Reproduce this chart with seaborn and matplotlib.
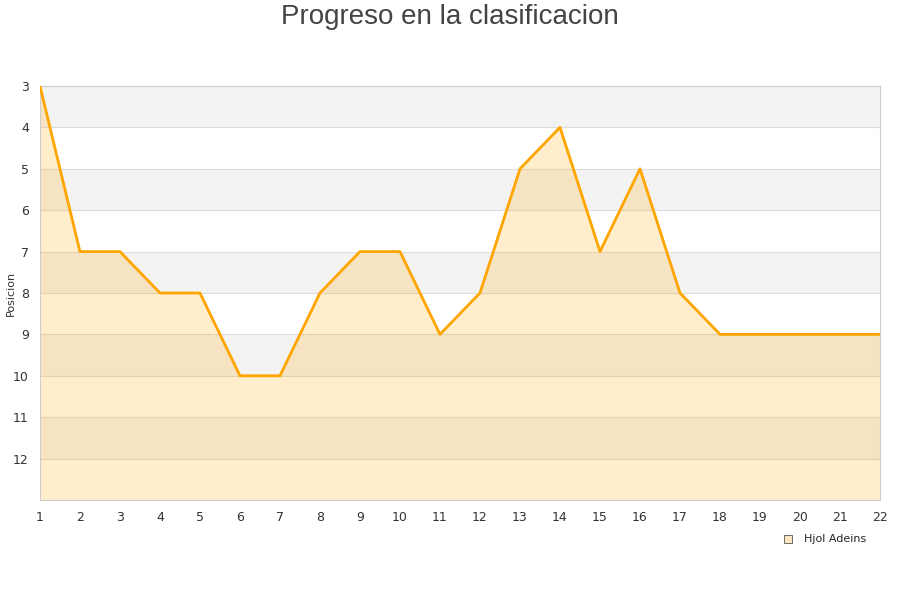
import pandas as pd
import matplotlib
matplotlib.use("Agg")
import matplotlib.pyplot as plt
import seaborn as sns
from matplotlib.lines import Line2D

jornadas = list(range(1, 23))
posicion = [3, 7, 7, 8, 8, 10, 10, 8, 7, 7, 9, 8, 5, 4, 7, 5, 8, 9, 9, 9, 9, 9]
equipo = "Hjol Adeins"

df = pd.DataFrame({"jornada": jornadas, "posicion": posicion})

sns.set_style("white")
plt.rcParams["font.family"] = ["DejaVu Sans"]

fig = plt.figure(figsize=(9, 6), dpi=100)
ax = fig.add_axes([0.0444, 0.1667, 0.9334, 0.69])

# bandas alternas
for y0 in range(3, 13):
    if (y0 - 3) % 2 == 0:
        ax.axhspan(y0, y0 + 1, color="#f3f3f3", zorder=0, lw=0)
    ax.axhline(y0, color="#dddddd", lw=0.8, zorder=1)

ax.fill_between(df["jornada"], df["posicion"], 13, color="orange", alpha=0.2, lw=0, zorder=2)
sns.lineplot(data=df, x="jornada", y="posicion", color="#ffa500", lw=2.0, ax=ax, zorder=3)

ax.set_xlim(1, 22)
ax.set_ylim(13, 3)
ax.set_xticks(jornadas)
ax.set_yticks(range(3, 13))
ax.tick_params(length=0, labelsize=9, colors="#333333")
ax.tick_params(axis="x", pad=8)
ax.tick_params(axis="y", pad=8)
ax.set_xlabel("")
ax.set_ylabel("Posicion", fontsize=8, color="#333333")
ax.yaxis.set_label_coords(-0.029, 0.5)
for s in ax.spines.values():
    s.set_color("#cccccc")
    s.set_linewidth(0.8)

fig.suptitle("Progreso en la clasificacion", fontsize=20, color="#444444", y=0.993,
             family=["Liberation Sans", "DejaVu Sans"])

handle = Line2D([], [], marker="s", ls="", markersize=6,
                markerfacecolor="#ffe8c0", markeredgecolor="#555555", markeredgewidth=0.6)
fig.legend([handle], [equipo], loc="center", bbox_to_anchor=(0.913, 0.101),
           frameon=False, fontsize=8, handletextpad=0.4)

fig.savefig("out.png", dpi=100)
